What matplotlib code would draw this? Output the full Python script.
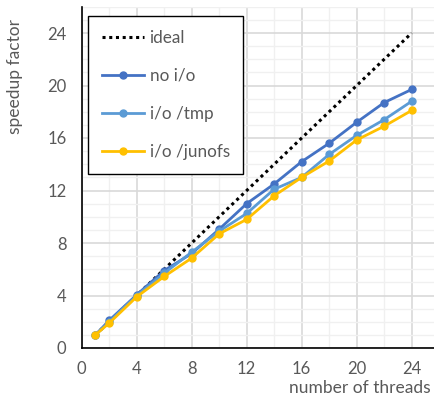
import matplotlib
matplotlib.use('Agg')
import matplotlib.pyplot as plt
from matplotlib.ticker import MultipleLocator

# data
threads = [1, 2, 4, 6, 8, 10, 12, 14, 16, 18, 20, 22, 24]
ideal = [1, 2, 4, 6, 8, 10, 12, 14, 16, 18, 20, 22, 24]
no_io = [1.0, 2.1, 4.05, 5.9, 7.2, 9.05, 11.0, 12.5, 14.2, 15.6, 17.2, 18.7, 19.7]
io_tmp = [1.0, 2.0, 4.0, 5.7, 7.3, 8.9, 10.25, 12.1, 13.0, 14.75, 16.2, 17.4, 18.8]
io_junofs = [1.0, 1.9, 3.9, 5.45, 6.85, 8.7, 9.8, 11.6, 13.0, 14.25, 15.85, 16.9, 18.1]

plt.rcParams['font.family'] = ['Lato', 'DejaVu Sans']
grey = '#595959'

fig = plt.figure(figsize=(4.34, 3.96), dpi=100)
ax = fig.add_axes([81.7 / 434, 48 / 396, 357.5 / 434, 341.25 / 396])

ax.plot(threads, ideal, color='black', linestyle=(0, (1, 1.2)), lw=2.2, label='ideal', zorder=3)
ax.plot(threads, no_io, color='#4472C4', lw=2, marker='o', ms=5, label='no i/o', zorder=4)
ax.plot(threads, io_tmp, color='#5B9BD5', lw=2, marker='o', ms=5, label='i/o /tmp', zorder=5)
ax.plot(threads, io_junofs, color='#FFC000', lw=2, marker='o', ms=5, label='i/o /junofs', zorder=6)

ax.set_xlim(0, 26)
ax.set_ylim(0, 26)
ax.xaxis.set_major_locator(MultipleLocator(4))
ax.xaxis.set_minor_locator(MultipleLocator(2))
ax.yaxis.set_major_locator(MultipleLocator(4))
ax.yaxis.set_minor_locator(MultipleLocator(1))
ax.grid(True, which='major', color='#D9D9D9', lw=1.2)
ax.grid(True, which='minor', color='#F0F0F0', lw=1.0)
ax.set_axisbelow(True)

for s in ['top', 'right']:
    ax.spines[s].set_visible(False)
for s in ['left', 'bottom']:
    ax.spines[s].set_color('black')
    ax.spines[s].set_linewidth(1.2)

ax.tick_params(which='both', length=0, labelsize=12, labelcolor=grey)
ax.tick_params(axis='x', pad=9)
ax.tick_params(axis='y', pad=11)

fig.text(15 / 434, 1 - 77 / 396, 'speedup factor', rotation=90, ha='center', va='center',
         fontsize=12.5, color=grey)
fig.text(431 / 434, 1 - 388 / 396, 'number of threads', ha='right', va='center',
         fontsize=12.5, color=grey)

leg = ax.legend(loc='upper left', bbox_to_anchor=(0.0177, 0.973), fontsize=12.3,
                labelspacing=1.3, handlelength=2.5, handletextpad=0.3,
                borderpad=0.8, borderaxespad=0, fancybox=False, framealpha=1,
                edgecolor='black')
leg.get_frame().set_linewidth(1.0)
for t in leg.get_texts():
    t.set_color(grey)

fig.savefig('out.png', dpi=100)
